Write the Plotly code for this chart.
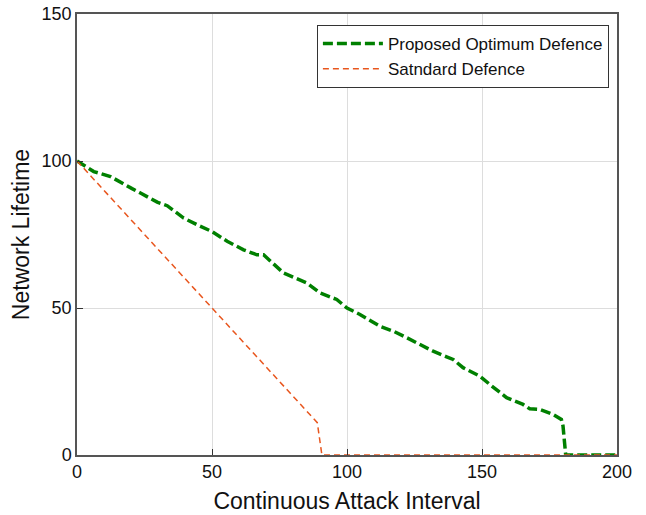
import plotly.graph_objects as go

# Proposed Optimum Defence
x_opt = [0, 6.2, 12.4, 15.5, 20.4, 23.5, 29.7, 33.4, 39.5, 44.5, 50, 55.6, 61.7, 66.6, 69.1,
         76.5, 85.1, 90.1, 96.2, 100, 104.8, 112.2, 117.2, 122.1, 131.9, 136.9, 139.3, 143,
         149.2, 152.9, 159.1, 165.2, 167.7, 171.4, 176.3, 179.4, 180, 181, 190, 200]
y_opt = [100, 96.4, 94.7, 93, 90.6, 89.1, 86, 84.8, 80.6, 78.3, 76, 72.7, 69.8, 68.1, 68.1,
         61.9, 58.5, 55.1, 52.9, 50, 47.8, 43.8, 42.1, 39.9, 35.3, 33.4, 32.5, 29.7,
         26.8, 24, 19.5, 17.2, 15.7, 15.5, 13.8, 12.1, 9.9, 0, 0, 0]

# Standard Defence
x_std = [0, 89, 90.7, 100, 150, 200]
y_std = [100, 11, 0, 0, 0, 0]

x_ticks = [0, 50, 100, 150, 200]
y_ticks = [0, 50, 100, 150]

FONT = "Liberation Sans, Arial, sans-serif"

fig = go.Figure()
fig.add_trace(go.Scatter(
    x=x_opt, y=y_opt, mode="lines", name="Proposed Optimum Defence",
    line=dict(color="#008000", width=3.5, dash="10px,4px"),
))
fig.add_trace(go.Scatter(
    x=x_std, y=y_std, mode="lines", name="Satndard Defence",
    line=dict(color="#E8561E", width=1.5, dash="6px,4px"),
))

axis_common = dict(
    showline=True, linecolor="#555555", linewidth=1.5, mirror=True,
    showgrid=True, gridcolor="#DDDDDD", gridwidth=1,
    ticks="inside", ticklen=6, tickcolor="#333333",
    tickfont=dict(family=FONT, size=18, color="#111111"),
    zeroline=False, automargin=False,
)

fig.update_layout(
    width=646, height=515,
    margin=dict(l=76.5, r=28.7, t=14, b=59.5),
    paper_bgcolor="white", plot_bgcolor="white",
    font=dict(family=FONT, color="#111111"),
    xaxis=dict(range=[0, 200], tickvals=x_ticks,
               title=dict(text="Continuous Attack Interval", font=dict(family=FONT, size=23), standoff=12),
               **axis_common),
    yaxis=dict(range=[0, 150], tickvals=y_ticks,
               title=dict(text="Network Lifetime", font=dict(family=FONT, size=23), standoff=6),
               **axis_common),
    legend=dict(x=0.985, y=0.975, xanchor="right", yanchor="top",
                bgcolor="white", bordercolor="#333333", borderwidth=1,
                font=dict(family=FONT, size=17, color="#111111"),
                itemwidth=60, tracegroupgap=0),
    showlegend=True,
)

fig.write_html("out.html")
